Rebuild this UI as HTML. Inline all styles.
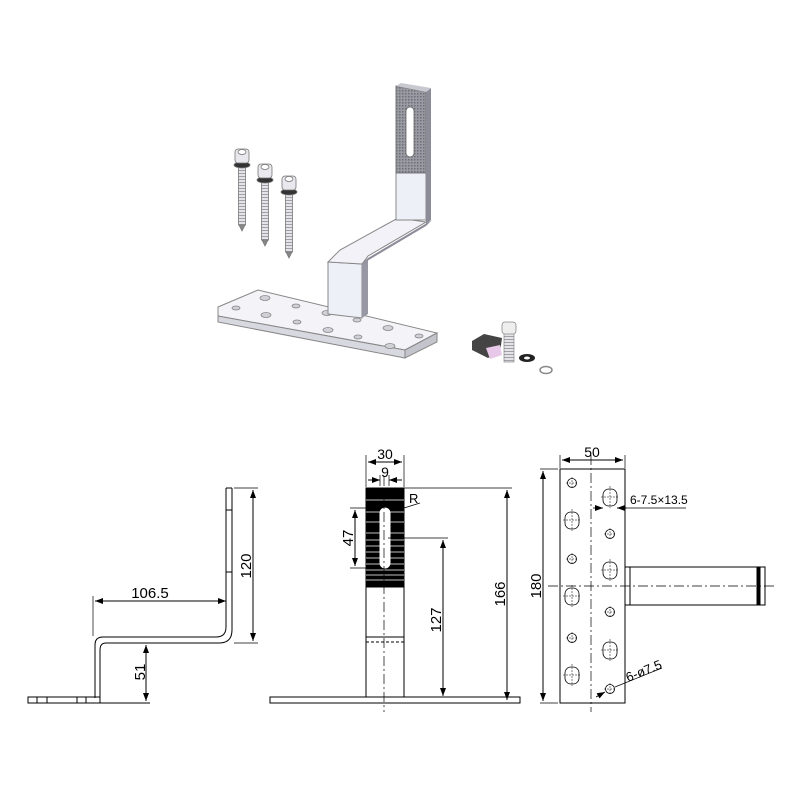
<!DOCTYPE html>
<html><head><meta charset="utf-8"><style>
html,body{margin:0;padding:0;background:#fff;}
svg{display:block;}
text{font-family:"Liberation Sans",sans-serif;fill:#000;}
</style></head><body>
<svg width="800" height="800" viewBox="0 0 800 800" xmlns="http://www.w3.org/2000/svg">
<defs>
<pattern id="tex" width="3" height="3" patternUnits="userSpaceOnUse">
<rect width="3" height="3" fill="#9a9aa2"/><rect width="1.5" height="1.5" fill="#6e6e78"/>
</pattern>
<pattern id="thr" width="6" height="3" patternUnits="userSpaceOnUse">
<rect width="6" height="3" fill="#e4e4e8"/><rect y="0" width="6" height="1" fill="#a0a0a8"/>
</pattern>
<marker id="a" markerWidth="8" markerHeight="6" refX="8" refY="3" orient="auto-start-reverse" markerUnits="userSpaceOnUse">
<path d="M0,0 L8,3 L0,6 z" fill="#000"/></marker>
</defs>

<!-- ===== 3D illustration ===== -->
<polygon points="218,307 258,290 437,333 405,350 218,316" fill="#f4f4f8" stroke="#888" stroke-width="1"/>
<polygon points="218,316 405,350 405,358 218,322" fill="#d8d8e0" stroke="#888" stroke-width="1"/>
<polygon points="405,350 437,333 437,342 405,358" fill="#c4c4cc" stroke="#888" stroke-width="1"/>
<g fill="#d0d0d8" stroke="#888" stroke-width="0.8">
<ellipse cx="265" cy="298" rx="5" ry="2.5"/><ellipse cx="236" cy="308" rx="4" ry="2"/>
<ellipse cx="296" cy="306" rx="4" ry="2"/><ellipse cx="266" cy="315" rx="5" ry="2.5"/>
<ellipse cx="327" cy="313" rx="5" ry="2.5"/><ellipse cx="297" cy="322" rx="4" ry="2"/>
<ellipse cx="357" cy="320" rx="4" ry="2"/><ellipse cx="328" cy="330" rx="5" ry="2.5"/>
<ellipse cx="388" cy="328" rx="5" ry="2.5"/><ellipse cx="358" cy="337" rx="4" ry="2"/>
<ellipse cx="419" cy="336" rx="4" ry="2"/><ellipse cx="390" cy="346" rx="5" ry="2.5"/>
</g>
<!-- bracket lower vertical -->
<polygon points="328,262 362,264 362,318 328,314" fill="#eef0f8" stroke="#888" stroke-width="1"/>
<polygon points="362,264 368,258 368,314 362,318" fill="#9898a4"/>
<!-- diagonal band -->
<polygon points="328,262 340,250 398,218 426,222 368,256 362,264" fill="#f2f2f8" stroke="#888" stroke-width="1"/>
<polygon points="362,264 426,226 432,220 368,258" fill="#8c8c9a"/>
<!-- upper vertical -->
<rect x="396" y="173" width="30" height="47" fill="#eef0f8" stroke="#888" stroke-width="1"/>
<polygon points="396,86 426,92 426,173 396,173" fill="url(#tex)" stroke="#777" stroke-width="1"/>
<polygon points="426,92 431,88 431,220 426,224" fill="#8c8c98"/>
<polygon points="396,86 401,83 431,88 426,92" fill="#c8c8d0"/>
<rect x="406" y="107" width="8" height="50" rx="4" fill="#fff" stroke="#666" stroke-width="0.8"/>

<!-- screws -->
<g stroke="#777" stroke-width="0.8">
<g transform="translate(242,155)">
<rect x="-3.5" y="12" width="7" height="58" fill="url(#thr)"/><polygon points="-3,70 3,70 0,76" fill="#888"/>
<ellipse cx="0" cy="10" rx="8" ry="3" fill="#333"/><rect x="-7" y="-6" width="14" height="14" rx="3" fill="#e8e8ee"/><ellipse cx="0" cy="-3" rx="4" ry="2.5" fill="#fff"/>
</g>
<g transform="translate(265,170)">
<rect x="-3.5" y="12" width="7" height="58" fill="url(#thr)"/><polygon points="-3,70 3,70 0,76" fill="#888"/>
<ellipse cx="0" cy="10" rx="8" ry="3" fill="#333"/><rect x="-7" y="-6" width="14" height="14" rx="3" fill="#e8e8ee"/><ellipse cx="0" cy="-3" rx="4" ry="2.5" fill="#fff"/>
</g>
<g transform="translate(289,182)">
<rect x="-3.5" y="12" width="7" height="58" fill="url(#thr)"/><polygon points="-3,70 3,70 0,76" fill="#888"/>
<ellipse cx="0" cy="10" rx="8" ry="3" fill="#333"/><rect x="-7" y="-6" width="14" height="14" rx="3" fill="#e8e8ee"/><ellipse cx="0" cy="-3" rx="4" ry="2.5" fill="#fff"/>
</g>
</g>
<!-- small hardware -->
<polygon points="472,341 484,334 502,338 500,352 488,358 472,350" fill="#444"/>
<polygon points="486,348 500,345 502,355 490,359" fill="#e8c8e8"/>
<rect x="504" y="332" width="10" height="30" fill="url(#thr)" stroke="#888" stroke-width="0.7"/>
<rect x="502" y="322" width="14" height="12" rx="3" fill="#eee" stroke="#888" stroke-width="0.8"/>
<ellipse cx="527" cy="358" rx="8" ry="4" fill="#222"/><ellipse cx="527" cy="358" rx="3" ry="1.5" fill="#fff"/>
<ellipse cx="546" cy="370" rx="6" ry="3.5" fill="#fff" stroke="#888" stroke-width="1.5"/>

<!-- ===== Left side view ===== -->
<g fill="none" stroke="#000" stroke-width="1">
<path d="M226,488 L226,627 Q226,637 216,637 L103,637 Q95,637 95,645 L95,698"/>
<path d="M232,488 L232,630 Q232,643 219,643 L106,643 Q100,643 100,650 L100,698"/>
<line x1="226" y1="488" x2="232" y2="488"/>
<line x1="226" y1="510" x2="232" y2="510"/><line x1="226" y1="572" x2="232" y2="572"/>
<rect x="28" y="697" width="72" height="6"/>
<line x1="37" y1="697" x2="37" y2="703"/><line x1="47" y1="697" x2="47" y2="703"/>
<line x1="77" y1="697" x2="77" y2="703"/><line x1="86" y1="697" x2="86" y2="703"/>
<line x1="100" y1="703" x2="150" y2="703"/>
<line x1="234" y1="488" x2="258" y2="488" stroke-width="0.7"/>
<line x1="234" y1="643" x2="258" y2="643" stroke-width="0.7"/>
<line x1="253" y1="490" x2="253" y2="641" marker-start="url(#a)" marker-end="url(#a)"/>
<line x1="93" y1="596" x2="93" y2="636" stroke-width="0.7"/>
<line x1="95" y1="601" x2="226" y2="601" marker-start="url(#a)" marker-end="url(#a)"/>
<line x1="146" y1="645" x2="146" y2="701" marker-start="url(#a)" marker-end="url(#a)"/>
</g>
<text x="150" y="598" font-size="15" text-anchor="middle">106.5</text>
<text transform="translate(251,566) rotate(-90)" font-size="15" text-anchor="middle">120</text>
<text transform="translate(145,672) rotate(-90)" font-size="15" text-anchor="middle">51</text>

<!-- ===== Middle view ===== -->
<g stroke="#000" fill="none" stroke-width="1">
<rect x="366" y="488" width="38" height="99" fill="#000"/>
<g stroke="#fff" stroke-width="0.8">
<line x1="366" y1="500" x2="404" y2="500"/><line x1="366" y1="512" x2="404" y2="512"/>
<line x1="366" y1="522" x2="404" y2="522"/><line x1="366" y1="533" x2="404" y2="533"/>
<line x1="366" y1="540" x2="404" y2="540"/><line x1="366" y1="546" x2="404" y2="546"/>
<line x1="366" y1="552" x2="404" y2="552"/><line x1="366" y1="558" x2="404" y2="558"/>
<line x1="366" y1="564" x2="404" y2="564"/><line x1="366" y1="570" x2="404" y2="570"/>
<line x1="366" y1="575" x2="404" y2="575"/><line x1="366" y1="580" x2="404" y2="580"/>
</g>
<rect x="380" y="508" width="10" height="60" rx="5" fill="#fff" stroke="#fff"/>
<line x1="366" y1="587" x2="366" y2="697"/><line x1="404" y1="587" x2="404" y2="697"/>
<line x1="366" y1="637" x2="404" y2="637"/>
<line x1="366" y1="642" x2="404" y2="642" stroke-dasharray="3,2"/>
<rect x="270" y="697" width="250" height="6"/>
<line x1="384" y1="476" x2="384" y2="712" stroke-width="0.7" stroke-dasharray="10,3,2,3"/>
<line x1="366" y1="455" x2="366" y2="487" stroke-width="0.7"/><line x1="404" y1="455" x2="404" y2="487" stroke-width="0.7"/>
<line x1="368" y1="462" x2="402" y2="462" marker-start="url(#a)" marker-end="url(#a)"/>
<line x1="368" y1="480" x2="380" y2="480" marker-end="url(#a)"/>
<line x1="402" y1="480" x2="389" y2="480" marker-end="url(#a)"/>
<line x1="380" y1="475" x2="380" y2="486" stroke-width="0.7"/><line x1="389" y1="475" x2="389" y2="486" stroke-width="0.7"/>
<line x1="404" y1="488" x2="512" y2="488" stroke-width="0.7"/>
<line x1="507" y1="490" x2="507" y2="700" marker-start="url(#a)" marker-end="url(#a)"/>
<line x1="388" y1="538" x2="448" y2="538" stroke-width="0.7"/>
<line x1="443" y1="540" x2="443" y2="696" marker-start="url(#a)" marker-end="url(#a)"/>
<line x1="350" y1="508" x2="382" y2="508" stroke-width="0.7"/><line x1="350" y1="568" x2="382" y2="568" stroke-width="0.7"/>
<line x1="355" y1="510" x2="355" y2="566" marker-start="url(#a)" marker-end="url(#a)"/>
<line x1="404" y1="508" x2="420" y2="503" stroke-width="0.7"/>
</g>
<text x="385" y="459" font-size="14" text-anchor="middle">30</text>
<text x="385" y="477" font-size="14" text-anchor="middle">9</text>
<text x="409" y="503" font-size="13">R</text>
<text transform="translate(505,594) rotate(-90)" font-size="15" text-anchor="middle">166</text>
<text transform="translate(441,620) rotate(-90)" font-size="15" text-anchor="middle">127</text>
<text transform="translate(353,538) rotate(-90)" font-size="15" text-anchor="middle">47</text>

<!-- ===== Right plan view ===== -->
<g stroke="#000" fill="none" stroke-width="1">
<rect x="560" y="469" width="65" height="234"/>
<rect x="625" y="567" width="140" height="38"/>
<line x1="630" y1="567" x2="630" y2="605"/>
<rect x="757" y="567" width="3" height="38" fill="#000"/>
<line x1="548" y1="586" x2="775" y2="586" stroke-width="0.7" stroke-dasharray="10,3,2,3"/>
<line x1="591" y1="455" x2="591" y2="712" stroke-width="0.7" stroke-dasharray="10,3,2,3"/>
<line x1="560" y1="455" x2="560" y2="468" stroke-width="0.7"/><line x1="625" y1="455" x2="625" y2="468" stroke-width="0.7"/>
<line x1="562" y1="460" x2="623" y2="460" marker-start="url(#a)" marker-end="url(#a)"/>
<line x1="543" y1="471" x2="543" y2="701" marker-start="url(#a)" marker-end="url(#a)"/>
<line x1="540" y1="469" x2="558" y2="469" stroke-width="0.7"/><line x1="540" y1="703" x2="558" y2="703" stroke-width="0.7"/>
<g stroke-width="0.8">
<circle cx="572" cy="483" r="4.5"/><circle cx="572" cy="559" r="4.5"/><circle cx="572" cy="638" r="4.5"/>
<circle cx="610" cy="534" r="4.5"/><circle cx="610" cy="612" r="4.5"/><circle cx="610" cy="689" r="4.5"/>
<rect x="565" y="512" width="14" height="17" rx="6"/><rect x="565" y="588" width="14" height="17" rx="6"/><rect x="565" y="667" width="14" height="17" rx="6"/>
<rect x="603" y="489" width="14" height="17" rx="6"/><rect x="603" y="562" width="14" height="17" rx="6"/><rect x="603" y="642" width="14" height="17" rx="6"/>
</g>
<g stroke-width="0.5" stroke-dasharray="2,1">
<path d="M566,483h12M572,477v12M566,559h12M572,553v12M566,638h12M572,632v12"/>
<path d="M604,534h12M610,528v12M604,612h12M610,606v12M604,689h12M610,683v12"/>
<path d="M563,520h18M572,509v22M563,596h18M572,585v22M563,675h18M572,664v22"/>
<path d="M601,497h18M610,486v22M601,570h18M610,559v22M601,650h18M610,639v22"/>
</g>
<line x1="593" y1="508" x2="603" y2="508" marker-end="url(#a)" stroke-width="0.8"/>
<line x1="627" y1="508" x2="617" y2="508" marker-end="url(#a)" stroke-width="0.8"/>
<line x1="617" y1="508" x2="686" y2="508" stroke-width="0.7"/>
<line x1="596" y1="697" x2="605" y2="692" marker-end="url(#a)" stroke-width="0.8"/>
<line x1="615" y1="687" x2="662" y2="668" stroke-width="0.7"/>
</g>
<text x="592" y="457" font-size="14" text-anchor="middle">50</text>
<text x="630" y="504" font-size="12">6-7.5×13.5</text>
<text transform="translate(628,682) rotate(-22)" font-size="13">6-ø7.5</text>
<text transform="translate(541,586) rotate(-90)" font-size="15" text-anchor="middle">180</text>
</svg>
</body></html>
